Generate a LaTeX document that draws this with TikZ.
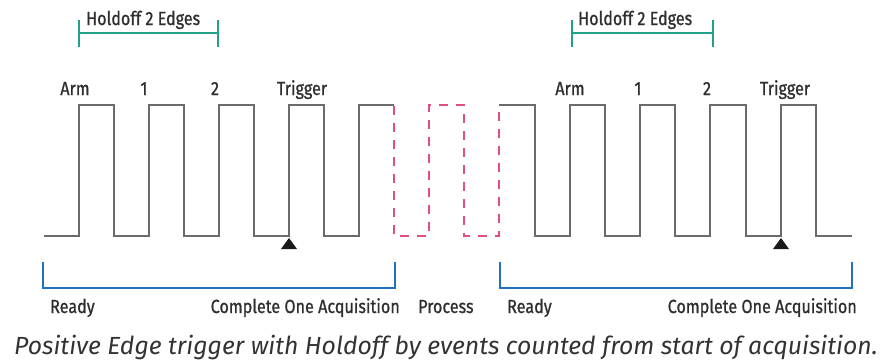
\documentclass[tikz,border=0pt]{standalone}
\usepackage{fontspec}
\newfontfamily\labfont{Fira Sans}[FakeStretch=0.85,FakeBold=0.9]
\newfontfamily\capfont{Fira Sans}
\definecolor{wavegray}{HTML}{6B6B6B}
\definecolor{tealc}{HTML}{22A08A}
\definecolor{bluec}{HTML}{1F72C0}
\definecolor{pinkc}{HTML}{E0507F}
\begin{document}
\begin{tikzpicture}[x=1pt,y=-1pt,
  wave/.style={draw=wavegray,line width=1.7pt,line join=miter},
  procwave/.style={draw=pinkc,line width=1.7pt,dash pattern=on 9pt off 8pt},
  holdoff/.style={draw=tealc,line width=2.8pt},
  acq/.style={draw=bluec,line width=2.8pt},
  lab/.style={font=\labfont\fontsize{19}{22}\selectfont,text=black!82,inner sep=0pt},
  trig/.style={fill=black!90,draw=none}]
\useasboundingbox (0,0) rectangle (889,362);
% left waveform
\draw[wave] (44,236) -- (79,236) -- (79,105) -- (114,105) -- (114,236)
  -- (149,236) -- (149,105) -- (184,105) -- (184,236)
  -- (219,236) -- (219,105) -- (254,105) -- (254,236)
  -- (289,236) -- (289,105) -- (324,105) -- (324,236)
  -- (359,236) -- (359,105) -- (394,105);
% process (dashed)
\draw[procwave] (394,106) -- (394,236) -- (429,236) -- (429,105) -- (464,105)
  -- (464,236) -- (499,236) -- (499,105);
% right waveform
\draw[wave] (499,105) -- (535,105) -- (535,236)
  -- (570,236) -- (570,105) -- (605,105) -- (605,236)
  -- (640,236) -- (640,105) -- (675,105) -- (675,236)
  -- (710,236) -- (710,105) -- (746,105) -- (746,236)
  -- (781,236) -- (781,105) -- (816,105) -- (816,236) -- (852,236);
% trigger markers
\fill[trig] (289,238) -- (297,249) -- (281,249) -- cycle;
\fill[trig] (781,238) -- (789,249) -- (773,249) -- cycle;
% holdoff brackets
\coordinate (hl1) at (79,33); \coordinate (hl2) at (218,33);
\draw[holdoff] (79,20) -- (79,47); \draw[holdoff] (218,20) -- (218,47);
\draw[holdoff] (hl1) -- (hl2);
\coordinate (hr1) at (572,33); \coordinate (hr2) at (713,33);
\draw[holdoff] (572,20) -- (572,47); \draw[holdoff] (713,20) -- (713,47);
\draw[holdoff] (hr1) -- (hr2);
\node[lab,anchor=base west] (hol) at (86,25) {Holdoff 2 Edges};
\node[lab,anchor=base west] (hor) at (578,25) {Holdoff 2 Edges};
% acquisition brackets
\draw[acq] (43,262) -- (43,288) -- (395,288) -- (395,262);
\draw[acq] (500,262) -- (500,288) -- (852,288) -- (852,262);
% edge labels
\node[lab,anchor=base] (arml) at (75,95) {Arm};
\node[lab,anchor=base] (onel) at (144,95) {1};
\node[lab,anchor=base] (twol) at (215,95) {2};
\node[lab,anchor=base] (trgl) at (302,95) {Trigger};
\node[lab,anchor=base] (armr) at (570,95) {Arm};
\node[lab,anchor=base] (oner) at (638,95) {1};
\node[lab,anchor=base] (twor) at (707,95) {2};
\node[lab,anchor=base] (trgr) at (785,95) {Trigger};
% phase labels
\node[lab,anchor=base west] (rdyl) at (50,313) {Ready};
\node[lab,anchor=base east] (cmpl) at (400,313) {Complete One Acquisition};
\node[lab,anchor=base west] (proc) at (418,313) {Process};
\node[lab,anchor=base west] (rdyr) at (507,313) {Ready};
\node[lab,anchor=base east] (cmpr) at (857,313) {Complete One Acquisition};
% caption
\node[font=\capfont\itshape\fontsize{24.8}{28}\selectfont,text=black!80,inner sep=0pt,anchor=base] (cap) at (446,354)
  {Positive Edge trigger with Holdoff by events counted from start of acquisition.};
\end{tikzpicture}
\end{document}
